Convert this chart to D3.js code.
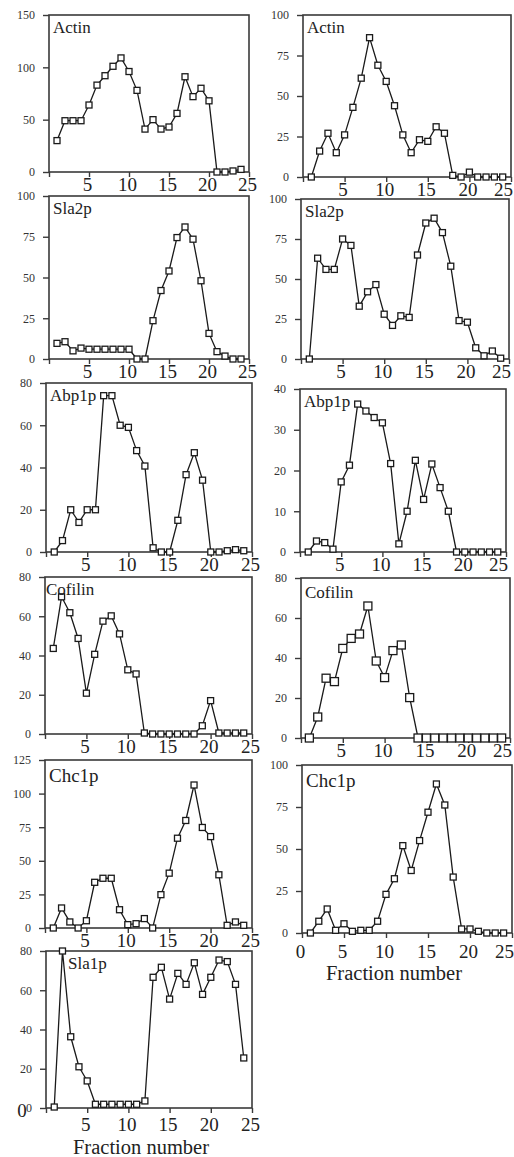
<!DOCTYPE html>
<html>
<head>
<meta charset="utf-8">
<script src="https://cdn.jsdelivr.net/npm/d3@7"></script>
<style>
  body { margin: 0; background: #fff; }
  svg { display: block; }
</style>
</head>
<body>
<script>
// fraction numbers (x categories)
var fractions = [1, 2, 3, 4, 5, 6, 7, 8, 9, 10, 11, 12, 13, 14, 15, 16, 17, 18, 19, 20, 21, 22, 23, 24];
var xTicks = [0, 5, 10, 15, 20, 25];

// left column series
var actinA   = [30, 49, 49, 49, 64, 83, 92, 101, 109, 96, 78, 41, 50, 41, 43, 56, 91, 72, 80, 68, 0, 0, 1, 2.5];
var sla2pA   = [9.6, 10.6, 5, 6.7, 6, 6, 6, 6, 6, 6, 0, 0, 23.5, 42, 54, 74.5, 81, 73.5, 48, 15.7, 4.5, 1.8, 0, 0];
var abp1pA   = [0, 5.4, 20, 14, 20, 20, 74, 74, 60, 59, 48, 40.7, 2, 0, 0, 15, 36.6, 47, 34, 0, 0, 0.6, 1.1, 0.6];
var cofilinA = [43.6, 69.9, 61.8, 48.7, 20.8, 40.6, 57.5, 60.2, 51, 32.7, 30.6, 0.5, 0, 0, 0, 0, 0, 0, 4.2, 17, 0.5, 0.5, 0.5, 0.5];
var chc1pA   = [0, 14.9, 4.5, 0, 5.4, 34, 37, 37, 13.6, 2.5, 3.2, 7, 0, 24.8, 40.8, 66.8, 80, 106.4, 74.8, 68, 39.6, 2, 4.5, 2];
var sla1pA   = [0.5, 80, 36.3, 21, 13.8, 1.9, 1.9, 1.9, 1.9, 1.9, 1.9, 3.6, 66.6, 71.7, 55.5, 68.6, 63, 74, 57.9, 66.6, 75.4, 74.6, 63, 25.5];

// right column series
var actinB   = [0, 16, 27, 15, 26, 43, 61, 86, 69, 59, 44, 26, 15, 23, 22, 31, 27, 1, 0, 3, 0, 0, 0, 0];
var sla2pB   = [0, 63, 56, 56, 75, 71, 33, 42, 46.5, 28, 21, 27, 26, 65, 85, 88, 79, 58, 24, 23, 7, 2, 5, 0.5];
var abp1pB   = [0, 2.7, 2.3, 0.7, 17.2, 21.3, 36.3, 34.6, 33, 31.7, 21.7, 2, 10, 22.5, 12.9, 21.6, 15.8, 10, 0, 0, 0, 0, 0, 0];
var cofilinB = [0, 10.5, 29.9, 28.2, 44.8, 49.8, 52, 66, 38.5, 30.2, 43.7, 46.5, 20.2, 0, 0, 0, 0, 0, 0, 0, 0, 0, 0, 0];
var chc1pB   = [0, 7, 14.3, 1.6, 5.5, 1, 1.6, 1.6, 7, 23, 32.3, 52, 37.2, 55, 71.9, 88.7, 76.2, 33.3, 2.4, 2.4, 1, 0, 0, 0];

// y tick labels
var ticks150 = [0, 50, 100, 150];
var ticks125 = [0, 25, 50, 75, 100, 125];
var ticks100 = [0, 25, 50, 75, 100];
var ticks80  = [0, 20, 40, 60, 80];
var ticks40  = [0, 10, 20, 30, 40];

// panel layout (frame edges in px)
var panels = [
  { name: "Actin",   values: actinA,   yTicks: ticks150, L: 49,  R: 249, T: 15,  B: 172 },
  { name: "Sla2p",   values: sla2pA,   yTicks: ticks100, L: 49,  R: 249, T: 196, B: 359 },
  { name: "Abp1p",   values: abp1pA,   yTicks: ticks80,  L: 46,  R: 252, T: 383, B: 552 },
  { name: "Cofilin", values: cofilinA, yTicks: ticks80,  L: 45,  R: 252, T: 577, B: 734, tx: 1 },
  { name: "Chc1p",   values: chc1pA,   yTicks: ticks125, L: 45,  R: 252, T: 760, B: 928, big: true, ty: 22 },
  { name: "Sla1p",   values: sla1pA,   yTicks: ticks80,  L: 46,  R: 252, T: 951, B: 1108, bottom: true, tx: 22, fx: -8, fy: 46, pad: 5 },
  { name: "Actin",   values: actinB,   yTicks: ticks100, L: 303, R: 511, T: 15,  B: 177, right: true },
  { name: "Sla2p",   values: sla2pB,   yTicks: ticks100, L: 301, R: 509, T: 199, B: 359, right: true },
  { name: "Abp1p",   values: abp1pB,   yTicks: ticks40,  L: 300, R: 506, T: 389, B: 552, right: true },
  { name: "Cofilin", values: cofilinB, yTicks: ticks80,  L: 301, R: 510, T: 578, B: 738, right: true, marker: 8, ty: 20 },
  { name: "Chc1p",   values: chc1pB,   yTicks: ticks100, L: 302, R: 512, T: 765, B: 933, right: true, big: true, ty: 22, bottom: true, zero: true, fx: -13, fy: 47, pad: 6.5 }
];

// pick a Times-like face if one is installed
function pickSerif() {
  var ctx = document.createElement("canvas").getContext("2d");
  var probe = "Fraction number 0123456789";
  var cands = ["Liberation Serif", "Times New Roman", "Tinos", "Nimbus Roman", "DejaVu Serif", "Noto Serif", "FreeSerif", "Times"];
  ctx.font = "40px monospace";
  var wMono = ctx.measureText(probe).width;
  ctx.font = "40px sans-serif";
  var wSans = ctx.measureText(probe).width;
  for (var i = 0; i < cands.length; i++) {
    ctx.font = '40px "' + cands[i] + '", monospace';
    var w1 = ctx.measureText(probe).width;
    ctx.font = '40px "' + cands[i] + '", sans-serif';
    var w2 = ctx.measureText(probe).width;
    if (w1 !== wMono && w2 !== wSans) return { face: '"' + cands[i] + '", serif', k: 1 };
    if (w1 !== wMono && w1 === w2) return { face: '"' + cands[i] + '", serif', k: 1 };
  }
  return { face: '"Liberation Sans", sans-serif', k: 0.92 };
}
var font = pickSerif();
function fs(px) { return (px * font.k).toFixed(1) + "px"; }

var svgWidth = 514;
var svgHeight = 1157;

var svg = d3.select("body")
    .append("svg")
    .attr("width", svgWidth)
    .attr("height", svgHeight)
    .style("font-family", font.face);

panels.forEach(function (p) {
  var x = d3.scaleLinear().domain([0, 25]).range([p.L, p.R]);
  var y = d3.scaleLinear().domain([0, d3.max(p.yTicks)]).range([p.B, p.T]);
  var g = svg.append("g");

  // frame
  g.append("rect")
      .attr("x", p.L)
      .attr("y", p.T)
      .attr("width", p.R - p.L)
      .attr("height", p.B - p.T)
      .attr("fill", "none")
      .attr("stroke", "#3a3a3a")
      .attr("stroke-width", 1.6);

  // y axis
  var leftAxis = d3.axisLeft(y).tickValues(p.yTicks).tickSize(6).tickPadding(8);
  var ya = g.append("g")
      .attr("transform", "translate(" + p.L + ",0)")
      .call(leftAxis)
      .attr("font-family", null);
  ya.select(".domain").remove();
  ya.selectAll("line").attr("stroke", "#3a3a3a").attr("stroke-width", 1.4);
  ya.selectAll("text")
      .style("font-family", font.face)
      .style("font-size", fs(12))
      .attr("fill", "#333");

  // x axis
  var bottomAxis = d3.axisBottom(x)
      .tickValues(xTicks)
      .tickSize(5)
      .tickPadding(p.bottom ? p.pad : 0.5)
      .tickFormat(function (d) { return (d === 0 && !p.zero) ? "" : d; });
  var xa = g.append("g")
      .attr("transform", "translate(0," + p.B + ")")
      .call(bottomAxis)
      .attr("font-family", null);
  xa.select(".domain").remove();
  xa.selectAll("line").attr("stroke", "#3a3a3a").attr("stroke-width", 1.4);
  xa.selectAll("text")
      .style("font-family", font.face)
      .style("font-size", fs(19))
      .attr("dx", function (d) { return (p.right && d === 25) ? -8 : -2; })
      .attr("fill", "#222");

  // line
  var line = d3.line()
      .x(function (d, i) { return x(fractions[i]); })
      .y(function (d) { return y(d); });
  g.append("path")
      .datum(p.values)
      .attr("d", line)
      .attr("fill", "none")
      .attr("stroke", "#1a1a1a")
      .attr("stroke-width", 1.3);

  // markers
  var s = p.marker || 6;
  g.selectAll(".pt")
      .data(p.values)
      .enter()
      .append("rect")
      .attr("class", "pt")
      .attr("x", function (d, i) { return x(fractions[i]) - s / 2; })
      .attr("y", function (d) { return y(d) - s / 2; })
      .attr("width", s)
      .attr("height", s)
      .attr("fill", "#fff")
      .attr("stroke", "#1a1a1a")
      .attr("stroke-width", 1.3);

  // title
  g.append("text")
      .attr("x", p.L + (p.tx || 4))
      .attr("y", p.T + (p.ty || 18))
      .attr("fill", "#222")
      .style("font-size", p.big ? fs(19) : fs(17))
      .text(p.name);

  if (p.bottom) {
    g.append("text")
        .attr("x", (p.L + p.R) / 2 + p.fx)
        .attr("y", p.B + p.fy)
        .attr("text-anchor", "middle")
        .attr("fill", "#222")
        .style("font-size", fs(20.5))
        .text("Fraction number");
  }
});

// stray large "0" at the origin of the bottom-left panel
var last = panels[5];
svg.append("text")
    .attr("x", last.L - 24)
    .attr("y", last.B + 9)
    .attr("text-anchor", "middle")
    .attr("fill", "#222")
    .style("font-size", fs(19))
    .text("0");
</script>
</body>
</html>
